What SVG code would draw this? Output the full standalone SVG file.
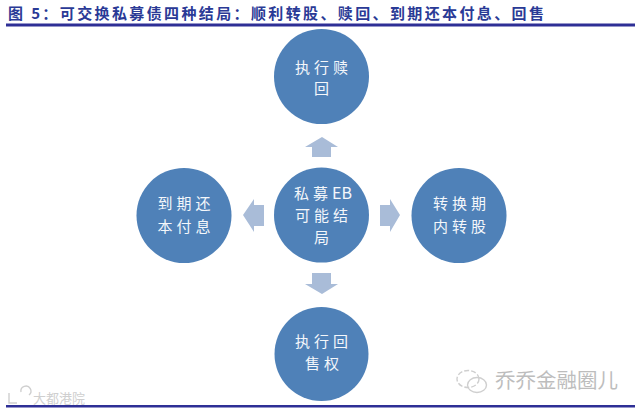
<svg xmlns="http://www.w3.org/2000/svg" width="640" height="412" viewBox="0 0 640 412">
<style>
.c{fill:#4f81b8}
.a{fill:#a9bcd8}
.t{font-family:"Noto Sans CJK SC","Noto Sans",sans-serif;font-size:15px;letter-spacing:4px;fill:#f4f7fb;text-anchor:middle}
.l{letter-spacing:0;font-size:16px}
.r{fill:#2e2f96}
.w{fill:none;stroke:#cfcfcf;stroke-width:1.4}
</style>
<rect width="640" height="412" fill="#ffffff"/>
<text x="8" y="19" font-family="'Noto Sans CJK SC',sans-serif" font-weight="700" font-size="15px" fill="#2a3a96" textLength="536" lengthAdjust="spacing">图 5：可交换私募债四种结局：顺利转股、赎回、到期还本付息、回售</text>
<rect class="r" x="6" y="23.5" width="629" height="3"/>
<rect class="r" x="6" y="405" width="629" height="2.5"/>
<g id="connectors">
<path class="a" d="M322 137L338 147H331V157H312V147H305Z"/>
<path class="a" d="M243 215L254 199V205H264V226H254V232Z"/>
<path class="a" d="M400 215L390 199V205H380V226H390V232Z"/>
<path class="a" d="M322 294L338 284H331V273H312V284H305Z"/>
</g>
<g id="node-top">
<circle class="c" cx="321.5" cy="76.5" r="47.5"/>
<text class="t" x="323.5" y="73">执行赎</text>
<text class="t" x="323.5" y="94">回</text>
</g>
<g id="node-center">
<circle class="c" cx="321.5" cy="215" r="47.5"/>
<text class="t" x="323" y="199">私募<tspan class="l">EB</tspan></text>
<text class="t" x="323.5" y="221">可能结</text>
<text class="t" x="323.5" y="243">局</text>
</g>
<g id="node-left">
<circle class="c" cx="184" cy="215.5" r="47.5"/>
<text class="t" x="186" y="209">到期还</text>
<text class="t" x="186" y="232">本付息</text>
</g>
<g id="node-right">
<circle class="c" cx="459" cy="215.5" r="47.5"/>
<text class="t" x="461.5" y="209">转换期</text>
<text class="t" x="461.5" y="232">内转股</text>
</g>
<g id="node-bottom">
<circle class="c" cx="321.5" cy="354" r="47"/>
<text class="t" x="323.5" y="347">执行回</text>
<text class="t" x="324" y="369">售权</text>
</g>
<g id="watermark">
<ellipse class="w" cx="468" cy="379" rx="11" ry="8.5" stroke-dasharray="5 2"/>
<ellipse class="w" cx="477" cy="385" rx="9.5" ry="7.5"/>
<path class="w" d="M9 393V403H17M21 392a5 5 0 1 1 8 3"/>
</g>
<text x="495" y="388" font-family="'Noto Sans CJK SC',sans-serif" font-size="20.5px" fill="#bdbdbd">乔乔金融圈儿</text>
<text x="33" y="403" font-family="'Noto Sans CJK SC',sans-serif" font-size="13px" fill="#cfcfcf">大都港院</text>
</svg>
